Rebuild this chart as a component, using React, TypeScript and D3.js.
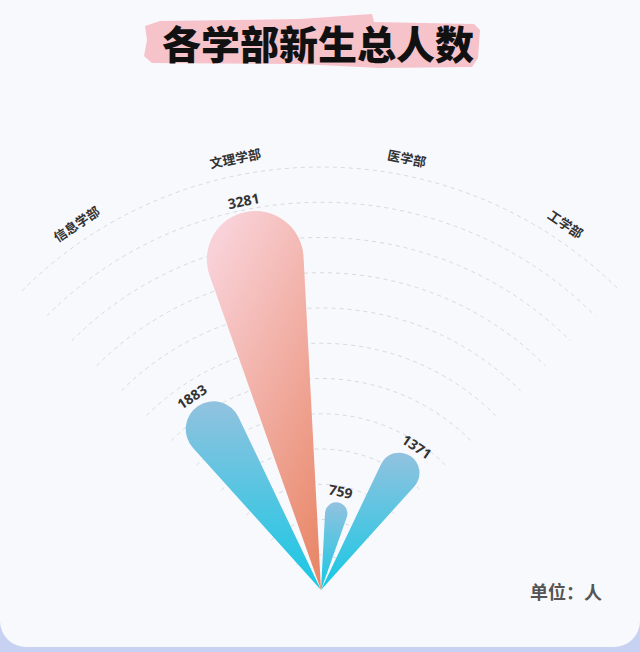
import React, { useEffect, useRef } from 'react';
import * as d3 from 'd3';

const categories: string[] = ['信息学部', '文理学部', '医学部', '工学部'];
const values: number[] = [1883, 3281, 759, 1371];
const highlighted = '文理学部';
const radiusMax = 3600;
const ringStep = 300;

const App: React.FC = () => {
  const ref = useRef<SVGSVGElement | null>(null);

  useEffect(() => {
    document.body.style.margin = '0';
    if (!ref.current) return;

    const width = 640;
    const height = 652;
    const cx = 321;
    const cy = 590;
    const outerR = 423;

    const svg = d3.select(ref.current);
    svg.selectAll('*').remove();
    svg.attr('width', width).attr('height', height);

    const defs = svg.append('defs');
    const blue = defs.append('linearGradient').attr('id', 'blueGrad')
      .attr('x1', 0).attr('y1', 0).attr('x2', 0).attr('y2', 1);
    blue.append('stop').attr('offset', '0%').attr('stop-color', '#92c2df');
    blue.append('stop').attr('offset', '100%').attr('stop-color', '#16c8e4');
    const pink = defs.append('linearGradient').attr('id', 'pinkGrad')
      .attr('x1', 0.2).attr('y1', 0).attr('x2', 0.8).attr('y2', 1);
    pink.append('stop').attr('offset', '0%').attr('stop-color', '#f9d2d9');
    pink.append('stop').attr('offset', '100%').attr('stop-color', '#e9896b');

    // background + card
    svg.append('rect').attr('width', width).attr('height', height).attr('fill', '#c7d1f1');
    svg.append('rect').attr('x', 0).attr('y', -40).attr('width', width).attr('height', 687)
      .attr('rx', 26).attr('fill', '#f8f9fd');

    // title with brush stroke
    svg.append('path')
      .attr('d', 'M145,26 L160,21 L300,19 L372,14 L374,22 L474,24 L480,30 L478,58 L472,67 L380,68 L300,64 L152,63 L144,56 L147,40 Z')
      .attr('fill', '#f6c3cb');
    svg.append('text')
      .attr('x', 318).attr('y', 59)
      .attr('text-anchor', 'middle')
      .attr('font-family', '"Noto Sans CJK SC", sans-serif')
      .attr('font-weight', 900)
      .attr('font-size', 39)
      .attr('fill', '#111')
      .text('各学部新生总人数');

    const chart = svg.append('g').attr('transform', `translate(${cx},${cy})`);

    const angle = d3.scaleBand<string>()
      .domain(categories)
      .range([-Math.PI / 4, Math.PI / 4]);

    const r = d3.scaleLinear().domain([0, radiusMax]).range([0, outerR]);

    // dashed rings
    const rings = d3.range(ringStep, radiusMax + 1, ringStep);
    chart.selectAll('.ring')
      .data(rings)
      .enter()
      .append('path')
      .attr('d', (d) => {
        const p = d3.path();
        const a0 = -Math.PI / 4 - Math.PI / 2;
        const a1 = Math.PI / 4 - Math.PI / 2;
        p.moveTo(r(d) * Math.cos(a0), r(d) * Math.sin(a0));
        p.arc(0, 0, r(d), a0, a1);
        return p.toString();
      })
      .attr('fill', 'none')
      .attr('stroke', '#d6d9e0')
      .attr('stroke-width', 1)
      .attr('stroke-dasharray', '4,4');

    const barAngle = (16.5 * Math.PI) / 180;
    const arc = d3.arc<{ cat: string; value: number }>()
      .innerRadius(0)
      .outerRadius((d) => r(d.value))
      .startAngle((d) => (angle(d.cat) || 0) + angle.bandwidth() / 2 - barAngle / 2)
      .endAngle((d) => (angle(d.cat) || 0) + angle.bandwidth() / 2 + barAngle / 2)
      .cornerRadius(1000);

    const data = categories.map((cat, i) => ({ cat, value: values[i] }));
    const mid = (c: string) => (angle(c) || 0) + angle.bandwidth() / 2;
    const deg = (a: number) => (a * 180) / Math.PI;

    chart.selectAll('.bar')
      .data(data)
      .enter()
      .append('path')
      .attr('d', (d) => arc(d) || '')
      .attr('fill', (d) => (d.cat === highlighted ? 'url(#pinkGrad)' : 'url(#blueGrad)'));

    // value labels
    chart.selectAll('.val')
      .data(data)
      .enter()
      .append('text')
      .attr('transform', (d) => {
        const a = mid(d.cat);
        const rr = r(d.value) + 6;
        return `translate(${rr * Math.sin(a)},${-rr * Math.cos(a)}) rotate(${deg(a)})`;
      })
      .attr('text-anchor', 'middle')
      .attr('font-family', '"Noto Sans", sans-serif')
      .attr('font-weight', 700)
      .attr('font-size', 14)
      .attr('fill', '#333')
      .text((d) => d.value);

    // category labels
    chart.selectAll('.cat')
      .data(categories)
      .enter()
      .append('text')
      .attr('transform', (d) => {
        const a = mid(d);
        const rr = 435;
        return `translate(${rr * Math.sin(a)},${-rr * Math.cos(a)}) rotate(${deg(a)})`;
      })
      .attr('text-anchor', 'middle')
      .attr('font-family', '"Noto Sans CJK SC", sans-serif')
      .attr('font-weight', 700)
      .attr('font-size', 13)
      .attr('fill', '#333')
      .text((d) => d);

    svg.append('text')
      .attr('x', 602).attr('y', 599)
      .attr('text-anchor', 'end')
      .attr('font-family', '"Noto Sans CJK SC", sans-serif')
      .attr('font-weight', 700)
      .attr('font-size', 18)
      .attr('fill', '#555')
      .text('单位：人');
  }, []);

  return <svg ref={ref} style={{ display: 'block' }}></svg>;
};

export default App;
